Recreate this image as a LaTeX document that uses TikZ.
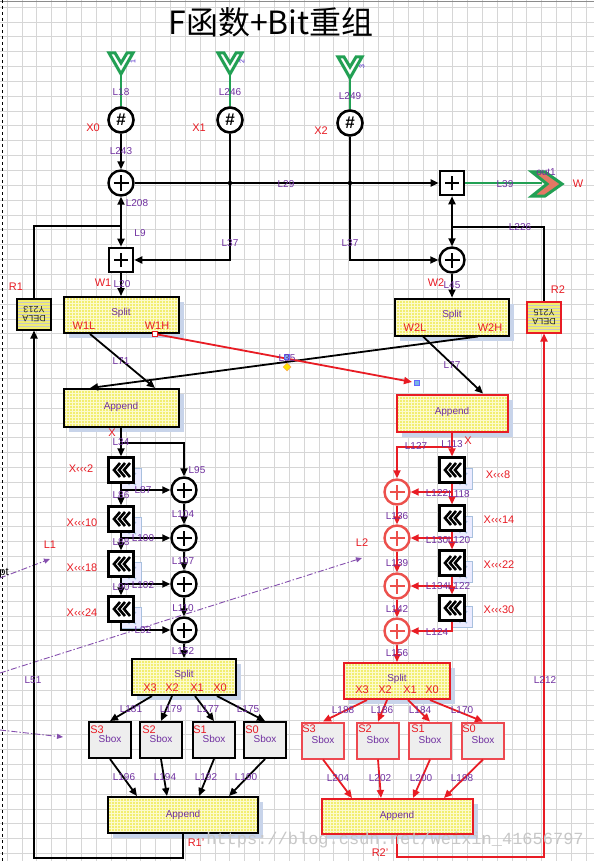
\documentclass[tikz,border=0pt]{standalone}
\usepackage{fontspec}
\setmainfont{Liberation Sans}
\newfontfamily\cjkfont{Noto Sans CJK SC}
\newfontfamily\wmfont{Liberation Mono}
\usetikzlibrary{arrows.meta,patterns,shadows,calc,shapes.geometric}
\definecolor{labc}{RGB}{112,48,160}
\definecolor{redc}{RGB}{232,28,36}
\definecolor{rcirc}{RGB}{236,80,76}
\definecolor{grn}{RGB}{34,160,84}
\definecolor{yel}{RGB}{242,238,112}
\definecolor{yelg}{RGB}{252,250,205}
\definecolor{shad}{RGB}{200,212,234}
\definecolor{gridc}{RGB}{214,214,214}
\definecolor{sboxc}{RGB}{238,238,238}
\definecolor{salm}{RGB}{226,120,100}
\definecolor{hblue}{RGB}{120,180,230}
\definecolor{rshad}{RGB}{168,192,222}
\newcommand\mylabfont{\fontsize{10}{11}\selectfont}
\newcommand\myredfont{\fontsize{11}{12}\selectfont}
\tikzset{
  lab/.style={font=\mylabfont, text=labc, inner sep=0},
  rlab/.style={font=\myredfont, text=redc, inner sep=0},
  ln/.style={line width=1.8},
  arr/.style={line width=1.8, -{Triangle[length=8,width=7]}},
  rln/.style={line width=1.8, draw=redc},
  rarr/.style={line width=1.8, draw=redc, -{Triangle[length=8,width=7]}},
  xorc/.style={circle, draw=#1, line width=2.4, minimum size=25, inner sep=0, fill=white,
    path picture={\draw[#1, line width=2.6]
      ([xshift=-7.5]path picture bounding box.center) -- ([xshift=7.5]path picture bounding box.center)
      ([yshift=-7.5]path picture bounding box.center) -- ([yshift=7.5]path picture bounding box.center);}},
  xorc/.default=black,
  sqc/.style={rectangle, draw, line width=2.6, minimum size=24, inner sep=0, fill=white,
    path picture={\draw[line width=2.6]
      ([xshift=-7]path picture bounding box.center) -- ([xshift=7]path picture bounding box.center)
      ([yshift=-7]path picture bounding box.center) -- ([yshift=7]path picture bounding box.center);}},
  hashc/.style={circle, draw, line width=2.6, minimum size=25, inner sep=0, fill=white,
    font=\bfseries\fontsize{17}{17}\selectfont},
  rotb/.style={rectangle, draw, line width=2.4, minimum size=25, inner sep=0, fill=white,
    path picture={\foreach \k in {0,1,2}{\draw[line width=2.6, line join=miter]
      ([shift={(-1+5*\k,-7)}]path picture bounding box.center) --
      ([shift={(-7+5*\k,0)}]path picture bounding box.center) --
      ([shift={(-1+5*\k,7)}]path picture bounding box.center);}}},
  rshadow/.style={rectangle, draw=rshad, line width=1.4, minimum size=21, inner sep=0, fill=white!92!blue,
    path picture={\draw[rshad, line width=1.4]
      ([shift={(-2,-6)}]path picture bounding box.center) -- ([shift={(-2,6)}]path picture bounding box.center)
      ([shift={(5,-6)}]path picture bounding box.center) -- ([shift={(-2,1)}]path picture bounding box.center) -- ([shift={(5,6)}]path picture bounding box.center);}},
  boxy/.style={rectangle, draw=#1, line width=2,
    drop shadow={shadow xshift=5pt, shadow yshift=-5pt, fill=shad, opacity=1},
    preaction={fill=yel}, pattern=grid, pattern color=yelg, inner sep=0},
  boxy/.default=black,
  sbox/.style={rectangle, draw=#1, line width=2, fill=sboxc, minimum width=42, minimum height=36,
    inner sep=0, font=\mylabfont, text=labc},
  sbox/.default=black,
  dela/.style={rectangle, draw=#1, line width=2, minimum width=34, minimum height=31,
    preaction={fill=yel}, pattern=horizontal lines, pattern color=black!22, inner sep=0},
  dela/.default=black,
  dtext/.style={rotate=180, align=center, font=\fontsize{9}{9}\selectfont, text=black!85, inner sep=0},
  dd/.style={draw=labc!85, line width=0.9, dash pattern=on 6pt off 2pt on 1.5pt off 2pt,
    -{Triangle[length=6,width=5]}},
  inchev/.pic={\draw[grn, line width=3, line join=miter, fill=white]
    (-12,0) -- (-6,0) -- (0,10) -- (6,0) -- (12,0) -- (0,21) -- cycle;},
}
\begin{document}
\begin{tikzpicture}[x=1pt,y=-1pt]
\useasboundingbox (0,0) rectangle (594,861);
\fill[white] (0,0) rectangle (594,861);
% grid
\foreach \i in {0,...,39} \draw[gridc, line width=0.6] (7+\i*14.85,0) -- (7+\i*14.85,861);
\foreach \j in {0,...,57} \draw[gridc, line width=0.6] (0,7+\j*14.85) -- (594,7+\j*14.85);
\draw[black!45, line width=1] (0,1.2) -- (594,1.2);
\draw[dashed, line width=0.8] (2.5,0) -- (2.5,861);

% title
\node[font=\cjkfont\fontsize{32}{32}\selectfont, inner sep=0] (title) at (271,22) {F函数+Bit重组};

% dash-dot lines
\coordinate (dd1a) at (0,578); \coordinate (dd1b) at (50,559);
\coordinate (dd2a) at (0,673); \coordinate (dd2b) at (362,558);
\coordinate (dd3a) at (0,730); \coordinate (dd3b) at (63,737);
\draw[dd] (dd1a) -- (dd1b);
\draw[dd] (dd2a) -- (dd2b);
\draw[dd] (dd3a) -- (dd3b);
\node[font=\fontsize{11}{12}\selectfont, inner sep=0] (ptx) at (4,573) {pt};

% inputs
\pic (ch0) at (121,53) {inchev};
\pic (ch1) at (230,53) {inchev};
\pic (ch2) at (350,57) {inchev};
\coordinate (i0) at (121,74);
\coordinate (i1) at (230,74);
\coordinate (i2) at (350,78);
\node[hashc] (h0) at (121,120) {\#};
\node[hashc] (h1) at (230,120) {\#};
\node[hashc] (h2) at (350,123) {\#};
\draw[grn, line width=2.2] (i0) -- (h0);
\draw[grn, line width=2.2] (i1) -- (h1);
\draw[grn, line width=2.2] (i2) -- (h2);
\node[font=\fontsize{7}{7}\selectfont, text=labc!60!blue, rotate=90, inner sep=0] (n1) at (133,62) {1};
\node[font=\fontsize{7}{7}\selectfont, text=labc!60!blue, rotate=90, inner sep=0] (n2) at (242,62) {2};
\node[font=\fontsize{7}{7}\selectfont, text=labc!60!blue, rotate=90, inner sep=0] (n3) at (362,67) {3};

% top xor row
\node[xorc] (a0) at (121,183) {};
\node[sqc] (b0) at (452,183) {};
\node[sqc] (sq2) at (121,260) {};
\node[xorc] (c2) at (452,260) {};
\coordinate (j1) at (a0 -| h1);
\coordinate (j2) at (a0 -| h2);
\draw[arr] (h0) -- (a0);
\draw[arr] (a0) -- (b0);
\draw[arr] (h1.south) |- (sq2.east);
\draw[arr] (h2.south) |- (c2.west);
\fill (j1) circle (2.2);
\fill (j2) circle (2.2);

% output W
\coordinate (wo) at (542,183);
\draw[grn, line width=2.2] (b0) -- (wo);
\draw[grn, line width=3, fill=salm, line join=miter] (532,172) -- (545,172) -- (562,184) -- (545,196) -- (532,196) -- (547,184) -- cycle;

% DELA boxes
\node[dela] (d1) at (34,314) {};
\node[dtext] (d1t) at (d1) {DELA\\Y213};
\node[dela=redc] (d2) at (544,317) {};
\node[dtext] (d2t) at (d2) {DELA\\Y215};
\coordinate (jr1) at (121,226);
\coordinate (jr2) at (452,227);
\draw[ln] (d1.north) |- (jr1);
\draw[arr] (jr1) -- (a0);
\draw[arr] (jr1) -- (sq2);
\draw[ln] (d2.north) |- (jr2);
\draw[arr] (jr2) -- (b0);
\draw[arr] (jr2) -- (c2);

% split / append upper
\node[boxy, minimum width=115, minimum height=36] (sp1) at (121,315) {};
\node[boxy, minimum width=114, minimum height=37] (sp2) at (452,317) {};
\node[boxy, minimum width=115, minimum height=38] (ap1) at (121,408) {};
\node[boxy=redc, minimum width=111, minimum height=37] (ap2) at (452,413) {};
\draw[arr] (sq2) -- (sp1);
\draw[arr] (c2) -- (sp2);
\draw[arr] ([xshift=-31]sp1.south) -- ([xshift=34]ap1.north);
\draw[arr] ([xshift=26]sp2.south) -- ([xshift=-31]ap1.north);
\draw[arr] ([xshift=-29]sp2.south) -- ([xshift=31]ap2.north);
\coordinate (tgt) at (412,382);
\draw[rarr] ([xshift=34]sp1.south) -- (tgt);
\node[draw=redc, fill=white, minimum size=5, inner sep=0, line width=0.7] (hw) at ([xshift=34]sp1.south) {};
\node[draw=blue!60, fill=hblue, minimum size=5, inner sep=0, line width=0.6] (hb1) at (417,383) {};
\node[draw=blue!60, fill=hblue, minimum size=5, inner sep=0, line width=0.6] (hb2) at (287,357) {};
\node[diamond, draw=orange!70, fill=yellow!85!orange, minimum size=8, inner sep=0, line width=0.5] (hd) at (287,367) {};

% rotation boxes
\foreach \n/\x/\y in {r1/121/470, r2/121/519, r3/121/564, r4/121/609, r5/452/470, r6/452/518, r7/452/563, r8/452/608} {
  \node[rshadow] (\n s) at (\x+10,\y+9) {};
  \node[rotb] (\n) at (\x,\y) {};
}
% xor columns
\foreach \n/\y in {p1/490, p2/538, p3/584, p4/630} \node[xorc] (\n) at (184,\y) {};
\foreach \n/\y in {q1/492, q2/538, q3/586, q4/631} \node[xorc=rcirc] (\n) at (397,\y) {};

% left column connectors
\draw[arr] (ap1) -- (r1);
\coordinate (br1) at (121,443);
\draw[arr] (br1) -| (p1);
\draw[arr] (r1) -- (r2);
\draw[arr] (r2) -- (r3);
\draw[arr] (r3) -- (r4);
\draw[arr] (r1 |- p1) -- (p1);
\draw[arr] (r2 |- p2) -- (p2);
\draw[arr] (r3 |- p3) -- (p3);
\draw[arr] (r4.south) |- (p4.west);
\draw[arr] (p1) -- (p2);
\draw[arr] (p2) -- (p3);
\draw[arr] (p3) -- (p4);

% right column connectors
\draw[rarr] (ap2) -- (r5);
\coordinate (br2) at (452,447);
\draw[rarr] (br2) -| (q1);
\draw[rarr] (r5) -- (r6);
\draw[rarr] (r6) -- (r7);
\draw[rarr] (r7) -- (r8);
\draw[rarr] (r5 |- q1) -- (q1);
\draw[rarr] (r6 |- q2) -- (q2);
\draw[rarr] (r7 |- q3) -- (q3);
\draw[rarr] (r8.south) |- (q4.east);
\draw[rarr] (q1) -- (q2);
\draw[rarr] (q2) -- (q3);
\draw[rarr] (q3) -- (q4);

% lower split / sbox / append
\node[boxy, minimum width=104, minimum height=36] (sp3) at (184,677) {};
\node[boxy=redc, minimum width=106, minimum height=36] (sp4) at (397,681) {};
\draw[arr] (p4) -- (sp3);
\draw[rarr] (q4) -- (sp4);
\foreach \n/\x in {s3/110, s2/161, s1/214, s0/265} \node[sbox] (\n) at (\x,740) {};
\foreach \n/\x in {t3/323, t2/378, t1/430, t0/483} \node[sbox=redc!80] (\n) at (\x,740.5) {};
\node[boxy, minimum width=150, minimum height=36] (ap3) at (183,815) {};
\node[boxy=redc, minimum width=151, minimum height=35] (ap4) at (397,816.5) {};
\draw[arr] ([xshift=-32]sp3.south) -- (s3.north);
\draw[arr] ([xshift=-12]sp3.south) -- (s2.north);
\draw[arr] ([xshift=11]sp3.south) -- (s1.north);
\draw[arr] ([xshift=33]sp3.south) -- (s0.north);
\draw[arr] (s3.south) -- ([xshift=-46]ap3.north);
\draw[arr] (s2.south) -- ([xshift=-16]ap3.north);
\draw[arr] (s1.south) -- ([xshift=16]ap3.north);
\draw[arr] (s0.south) -- ([xshift=46]ap3.north);
\draw[rarr] ([xshift=-30]sp4.south) -- (t3.north);
\draw[rarr] ([xshift=-10]sp4.south) -- (t2.north);
\draw[rarr] ([xshift=11]sp4.south) -- (t1.north);
\draw[rarr] ([xshift=33]sp4.south) -- (t0.north);
\draw[rarr] (t3.south) -- ([xshift=-45]ap4.north);
\draw[rarr] (t2.south) -- ([xshift=-16]ap4.north);
\draw[rarr] (t1.south) -- ([xshift=16]ap4.north);
\draw[rarr] (t0.south) -- ([xshift=47]ap4.north);

% feedback
\coordinate (rb1) at (183,858);
\coordinate (rb2) at (397,857);
\draw[arr] (ap3.south) -- (rb1) -| (d1.south);
\draw[rarr] (ap4.south) -- (rb2) -| (d2.south);

% box texts
\foreach \t/\x/\y [count=\i] in {Split/121/313, Split/452/315, Append/121/407, Append/452/412,
  Split/184/675, Split/397/679, Append/183/815, Append/397/816,
  Sbox/110/739, Sbox/161/739, Sbox/214/739, Sbox/265/739,
  Sbox/323/740, Sbox/378/740, Sbox/430/740, Sbox/483/740}
  \node[lab] (bt\i) at (\x,\y) {\t};

% purple labels
\foreach \t/\x/\y [count=\i] in {L18/121/92, L246/230/92, L249/350/96, L243/121/151, L29/286/184,
  L208/137/203, L9/140/233, L37/230/243, L37/350/243, L226/520/227, L39/505/184, out1/546/172,
  L20/122/284, L45/452/285, L71/121/361, L35/287/358, L77/452/365, L34/121/442, L95/197/470,
  L87/143/490, L86/121/495, L100/143/538, L88/121/542, L102/143/585, L90/121/587, L92/143/630,
  L104/183/514, L107/183/561, L110/183/608, L152/183/651,
  L127/416/446, L113/452/444, L122/437/493, L118/459/494, L130/437/540, L120/459/540,
  L134/437/586, L122/459/586, L124/437/632,
  L136/397/516, L139/397/563, L142/397/609, L156/397/653,
  L181/131/709, L179/171/709, L177/208/709, L175/248/709,
  L196/124/777, L194/165/777, L192/206/777, L190/246/777,
  L188/343/710, L186/382/710, L184/420/710, L170/462/710,
  L204/338/778, L202/380/778, L200/421/778, L198/462/778,
  L51/33/680, L212/545/680}
  \node[lab] (pl\i) at (\x,\y) {\t};

% red labels
\foreach \t/\x/\y [count=\i] in {X0/93/128, X1/199/128, X2/321/131, W/578/184, R1/16/287, R2/558/290,
  W1/103/283, W2/436/283, W1L/84/326, W1H/157/326, W2L/415/328, W2H/490/328,
  X/112/433, X/468/441,
  X‹‹‹2/81/469, X‹‹‹10/82/523, X‹‹‹18/82/568, X‹‹‹24/82/613,
  X‹‹‹8/498/475, X‹‹‹14/499/520, X‹‹‹22/499/565, X‹‹‹30/499/610,
  L1/50/545, L2/362/543, R1'/196/843, R2'/380/853,
  X3/150/688, X2/172/688, X1/197/688, X0/220/688,
  X3/362/690, X2/385/690, X1/410/690, X0/432/690,
  S3/97/730, S2/149/730, S1/200/730, S0/252/730,
  S3/309/729, S2/365/729, S1/418/729, S0/469/729}
  \node[rlab] (rl\i) at (\x,\y) {\t};

% watermark
\node[font=\wmfont\fontsize{17}{17}\selectfont, text=black!22, inner sep=0] (wm) at (395,840) {https://blog.csdn.net/weixin\_41656797};
\end{tikzpicture}
\end{document}
